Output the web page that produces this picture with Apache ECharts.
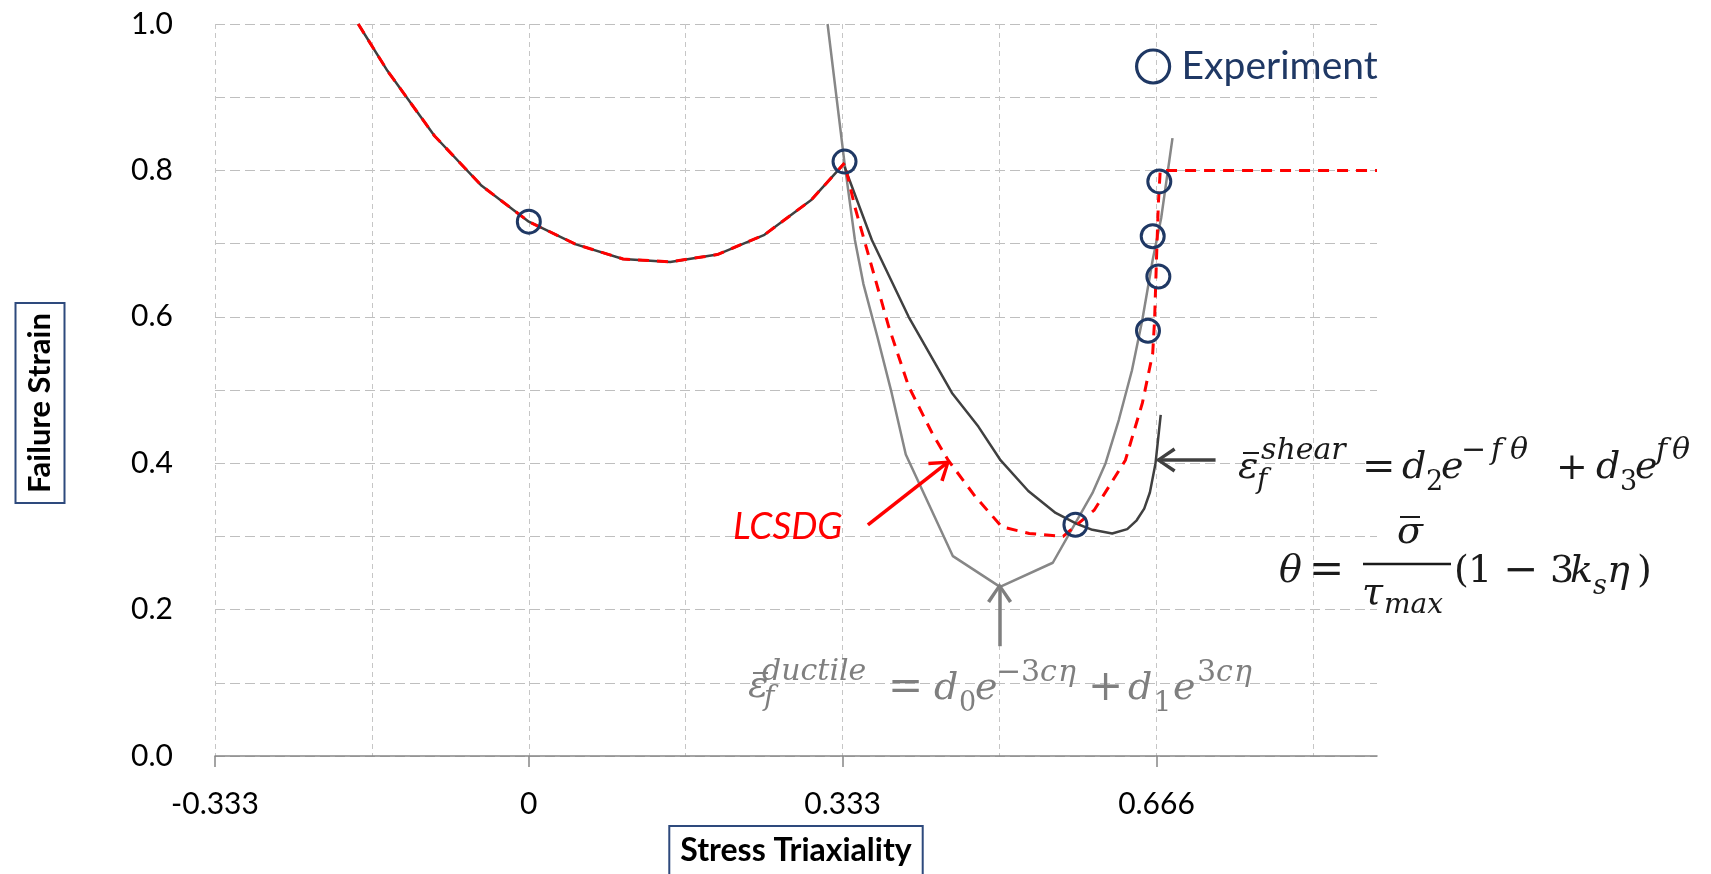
<!DOCTYPE html>
<html><head><meta charset="utf-8">
<script src="https://cdn.jsdelivr.net/npm/echarts@6/dist/echarts.min.js"></script>
<style>html,body{margin:0;padding:0;background:#fff}#c{width:1711px;height:874px}</style>
</head><body><div id="c"></div>
<script>
// ---------- data ----------
const X_TICKS = [-0.333, 0, 0.333, 0.666];
const Y_LABEL_STEP = 0.2;

// left branch (shared by dark curve and LCSDG)
const LEFT_X = [-0.181, -0.15, -0.10, -0.05, 0.0, 0.05, 0.10, 0.15, 0.20, 0.25, 0.30, 0.335];
const LEFT_Y = [1.000, 0.936, 0.847, 0.779, 0.730, 0.699, 0.679, 0.675, 0.685, 0.712, 0.760, 0.810];

// ductile model (light gray)
const DUCT_X = [0.317, 0.335, 0.346, 0.355, 0.370, 0.385, 0.400, 0.450, 0.500, 0.556, 0.598, 0.612, 0.626, 0.640, 0.651, 0.662, 0.671, 0.683];
const DUCT_Y = [1.000, 0.810, 0.705, 0.645, 0.572, 0.496, 0.412, 0.273, 0.231, 0.264, 0.359, 0.400, 0.459, 0.527, 0.596, 0.678, 0.735, 0.844];

// shear model (dark gray)
const SHEAR_X = [0.335, 0.364, 0.403, 0.449, 0.477, 0.500, 0.530, 0.559, 0.580, 0.598, 0.619, 0.635, 0.645, 0.653, 0.659, 0.665, 0.6705];
const SHEAR_Y = [0.805, 0.705, 0.600, 0.496, 0.450, 0.405, 0.362, 0.332, 0.318, 0.309, 0.304, 0.310, 0.322, 0.338, 0.360, 0.400, 0.466];

// LCSDG right branch (red dashed)
const LCSDG_RX = [0.335, 0.346, 0.364, 0.382, 0.403, 0.428, 0.445, 0.474, 0.502, 0.531, 0.567, 0.600, 0.633, 0.651, 0.662, 0.664, 0.666, 0.668, 0.670, 0.900];
const LCSDG_RY = [0.810, 0.750, 0.668, 0.586, 0.505, 0.441, 0.404, 0.354, 0.313, 0.304, 0.300, 0.336, 0.404, 0.482, 0.550, 0.596, 0.678, 0.755, 0.800, 0.800];

// experiment points
const EXP_X = [0.000, 0.335, 0.580, 0.657, 0.668, 0.662, 0.669];
const EXP_Y = [0.730, 0.812, 0.316, 0.581, 0.655, 0.710, 0.785];

// annotation arrows (data coordinates)
const ARROW_RED = [[0.3598, 0.3156], [0.4454, 0.402]];
const ARROW_SHEAR = [[0.7287, 0.4044], [0.6672, 0.4044]];
const ARROW_DUCT = [[0.4995, 0.150], [0.4995, 0.2336]];

// ---------- helpers ----------
const zip = (xs, ys) => xs.map((x, i) => [x, ys[i]]);
const LCSDG = zip(LEFT_X, LEFT_Y).concat(zip(LCSDG_RX, LCSDG_RY).slice(1));
const CHEVRON = 'path://M0,0L0.01,0L0,0.01Z M40,40L39.99,40L40,39.99Z M20,18L32.5,36L29.5,38L20,23.5L10.5,38L7.5,36Z';

function arrowLine(pts, color, width) {
  return {
    silent: true, animation: false,
    symbol: ['none', CHEVRON], symbolSize: 40,
    label: {show: false},
    lineStyle: {color: color, width: width, type: 'solid'},
    itemStyle: {color: color},
    data: [[{coord: pts[0]}, {coord: pts[1]}]]
  };
}

const MATH_FONT = 'DejaVu Serif';
function piece(p, color) {
  const [t, x, base, size, it] = p;
  return {
    type: 'text', x: x, y: base - 0.34 * size, silent: true, z: 50,
    style: {
      text: t, fontFamily: MATH_FONT, fontSize: size, fontStyle: it ? 'italic' : 'normal',
      fill: color, align: 'left', verticalAlign: 'middle', textAlign: 'left', textVerticalAlign: 'middle'
    }
  };
}
function bar(x1, x2, y, color, w) {
  return {type: 'line', silent: true, z: 50, shape: {x1: x1, y1: y, x2: x2, y2: y}, style: {stroke: color, lineWidth: w}};
}

// formula layouts [text, x, baseline, size, italic]
const SHEAR_F = [
  ['ε', 1238, 481, 38, true], ['shear', 1261, 461, 30, true], ['f', 1257, 490, 28, true],
  ['=', 1362, 482, 40, false], ['d', 1402, 481, 38, true], ['2', 1426, 492, 27, false],
  ['e', 1441, 481, 38, true], ['−', 1461, 461, 30, false], ['f', 1491, 461, 30, true],
  ['θ', 1510, 461, 30, true], ['+', 1556, 482, 38, false], ['d', 1596, 481, 38, true],
  ['3', 1620, 492, 27, false], ['e', 1635, 481, 38, true], ['f', 1656, 461, 30, true],
  ['θ', 1672, 461, 30, true]
];
const THETA_F = [
  ['θ', 1279, 585, 38, true], ['=', 1309, 586, 42, false], ['σ', 1397, 546, 38, true],
  ['τ', 1362, 607, 38, true], ['max', 1384, 615, 28, true], ['(', 1454, 585, 38, false],
  ['1', 1468, 585, 38, false], ['−', 1503, 586, 42, false], ['3', 1550, 585, 38, false],
  ['k', 1570, 585, 38, true], ['s', 1593, 596, 27, true], ['η', 1607, 585, 38, true],
  [')', 1637, 585, 38, false]
];
const DUCT_F = [
  ['ε', 748, 700, 38, true], ['ductile', 762, 682, 30, true], ['f', 764, 707, 28, true],
  ['=', 888, 703, 42, false], ['d', 934, 702, 38, true], ['0', 959, 713, 27, false],
  ['e', 975, 702, 38, true], ['−', 996, 683, 30, false], ['3', 1021, 683, 30, false],
  ['c', 1040, 683, 30, true], ['η', 1058, 683, 30, true], ['+', 1088, 703, 42, false],
  ['d', 1128, 702, 38, true], ['1', 1154, 713, 27, false], ['e', 1173, 702, 38, true],
  ['3', 1197, 683, 30, false], ['c', 1216, 683, 30, true], ['η', 1234, 683, 30, true]
];

const BLACK = '#1a1a1a', GRAY_TXT = '#7f7f7f';
const graphics = []
  .concat(SHEAR_F.map(p => piece(p, BLACK)))
  .concat(THETA_F.map(p => piece(p, BLACK)))
  .concat(DUCT_F.map(p => piece(p, GRAY_TXT)))
  .concat([
    bar(1243, 1259, 453, BLACK, 2),
    bar(1400, 1420, 517, BLACK, 2),
    bar(1363, 1451, 564, BLACK, 2.5),
    bar(753, 768, 673, GRAY_TXT, 2),
    {type: 'text', x: 733, y: 527, silent: true, z: 50,
     style: {text: 'LCSDG', fontFamily: 'Lato', fontStyle: 'italic', fontSize: 37, fill: '#FF0000',
             align: 'left', verticalAlign: 'middle', textAlign: 'left', textVerticalAlign: 'middle'}}
  ]);

const chart = echarts.init(document.getElementById('c'), null, {renderer: 'canvas'});
chart.setOption({
  animation: false,
  backgroundColor: '#ffffff',
  grid: {left: 215, right: 334, top: 24, bottom: 118, containLabel: false, outerBoundsMode: 'none'},
  legend: {
    data: [{name: 'Experiment', icon: 'circle'}],
    left: 1130, top: 42, itemWidth: 33, itemHeight: 33,
    itemStyle: {color: 'rgba(0,0,0,0)', borderColor: '#1F3864', borderWidth: 3.2, opacity: 1},
    textStyle: {fontFamily: 'Lato', fontSize: 39, color: '#1F3864', padding: [0, 0, 0, 7]},
    selectedMode: false
  },
  xAxis: [
    {
      type: 'value', min: -0.333, max: 0.9, interval: 0.333,
      axisLine: {show: true, onZero: false, lineStyle: {color: '#868686', width: 1.5}},
      axisTick: {show: true, length: 11, lineStyle: {color: '#868686', width: 1.5}, customValues: X_TICKS},
      axisLabel: {customValues: X_TICKS, fontFamily: 'Lato', fontSize: 30, color: '#000', margin: 33,
                  formatter: v => (v === 0 ? '0' : Number(v).toFixed(3))},
      splitLine: {show: false},
      name: 'Stress Triaxiality', nameLocation: 'middle', nameGap: 70,
      nameTextStyle: {fontFamily: 'Lato', fontWeight: 'bold', fontSize: 32, color: '#000',
                      borderColor: '#2E4A7D', borderWidth: 2, padding: [7, 11, 14, 11], lineHeight: 36}
    },
    {
      type: 'value', min: -0.333, max: 0.9, interval: 0.1665, position: 'bottom',
      axisLine: {show: false}, axisTick: {show: false}, axisLabel: {show: false},
      splitLine: {show: true, showMaxLine: false, lineStyle: {type: [5, 4], color: '#C6C6C6', width: 1}}
    }
  ],
  yAxis: {
    type: 'value', min: 0, max: 1, interval: 0.1,
    axisLine: {show: false}, axisTick: {show: false},
    axisLabel: {fontFamily: 'Lato', fontSize: 30, color: '#000', margin: 42,
                formatter: v => { const k = Math.round(v * 10); return k % Math.round(Y_LABEL_STEP * 10) === 0 ? (k / 10).toFixed(1) : ''; }},
    splitLine: {show: true, lineStyle: {type: [10, 5], color: '#BFBFBF', width: 1}},
    name: '{b|Failure Strain}{s| }', nameLocation: 'middle', nameGap: 158, nameRotate: 90,
    nameTextStyle: {rich: {
      b: {fontFamily: 'Lato', fontWeight: 'bold', fontSize: 31, color: '#000', lineHeight: 34,
          borderColor: '#2E4A7D', borderWidth: 2, padding: [9, 10, 9, 10]},
      s: {width: 26, fontSize: 10}
    }}
  },
  series: [
    {name: 'Ductile', type: 'line', xAxisIndex: 0, data: zip(DUCT_X, DUCT_Y), showSymbol: false, symbol: 'none',
     lineStyle: {color: '#878787', width: 2.5}, z: 2, clip: true,
     markLine: arrowLine(ARROW_DUCT, '#7f7f7f', 3.5)},
    {name: 'Shear', type: 'line', xAxisIndex: 0, data: zip(SHEAR_X, SHEAR_Y), showSymbol: false, symbol: 'none',
     lineStyle: {color: '#404040', width: 2.5}, z: 3, clip: true,
     markLine: arrowLine(ARROW_SHEAR, '#404040', 3.5)},
    {name: 'Left', type: 'line', xAxisIndex: 0, data: zip(LEFT_X, LEFT_Y), showSymbol: false, symbol: 'none',
     lineStyle: {color: '#404040', width: 2.5}, z: 3, clip: true},
    {name: 'LCSDG', type: 'line', xAxisIndex: 0, data: LCSDG, showSymbol: false, symbol: 'none',
     lineStyle: {color: '#FF0000', width: 3, type: [11, 8]}, z: 4, clip: true,
     markLine: arrowLine(ARROW_RED, '#FF0000', 3.5)},
    {name: 'Experiment', type: 'scatter', xAxisIndex: 0, data: zip(EXP_X, EXP_Y), symbol: 'circle', symbolSize: 23,
     itemStyle: {color: 'rgba(0,0,0,0)', borderColor: '#1F3864', borderWidth: 3, opacity: 1}, z: 6}
  ],
  graphic: graphics
});
</script></body></html>
